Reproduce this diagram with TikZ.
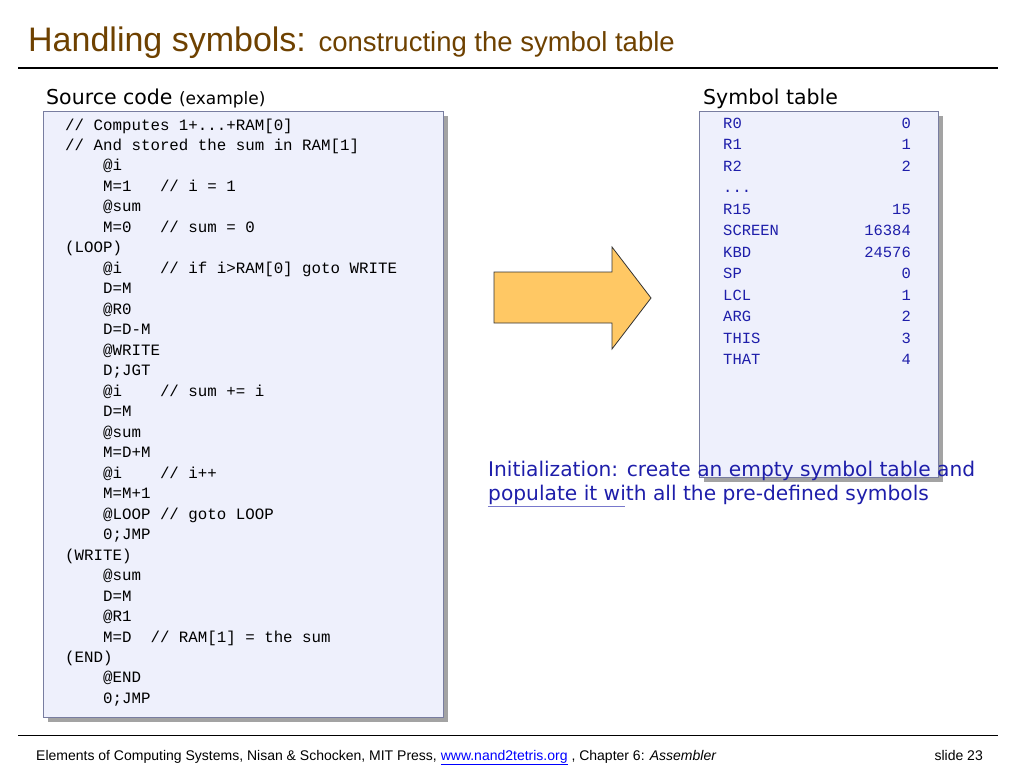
\documentclass[tikz,border=0pt]{standalone}
\usepackage{fontspec}
\setmainfont{Liberation Sans}
\newfontfamily\hand{DejaVu Sans}
\newfontfamily\code{Liberation Mono}
\usetikzlibrary{shadows}
\definecolor{titlebrown}{RGB}{110,65,0}
\definecolor{boxfill}{RGB}{238,240,252}
\definecolor{boxline}{RGB}{120,125,160}
\definecolor{tblue}{RGB}{30,30,170}
\definecolor{arrowfill}{RGB}{255,200,100}
\tikzset{
  x=1pt,y=-1pt,
  panel/.style={draw=boxline,fill=boxfill,line width=0.8pt,drop shadow={shadow xshift=5pt,shadow yshift=-5pt,fill=black!60,opacity=0.6}},
  codeline/.style={anchor=base west,inner sep=0pt,font=\code\fontsize{15.8}{15.8}\selectfont},
  tabline/.style={anchor=base west,inner sep=0pt,text=tblue,font=\code\fontsize{15.5}{15.5}\selectfont},
  tabval/.style={anchor=base east,inner sep=0pt,text=tblue,font=\code\fontsize{15.5}{15.5}\selectfont},
}
\newcommand\cl[2]{\node[codeline] (c#1) at (65,{130+20.48*#1}) {#2};}
\newcommand\tl[3]{\node[tabline] (n#1) at (723,{128+21.5*#1}) {#2};\node[tabval] (v#1) at (911,{128+21.5*#1}) {#3};}
\begin{document}
\begin{tikzpicture}
\useasboundingbox (0,0) rectangle (1024,768);
\node[anchor=base west,inner sep=0pt,text=titlebrown] (title) at (28,52) {\fontsize{34}{34}\selectfont Handling symbols: \fontsize{27.5}{27.5}\selectfont constructing the symbol table};
\draw[line width=2pt] (18,68) -- (998,68);
\node[anchor=base west,inner sep=0pt] (srch) at (46,104) {\hand\fontsize{20.5}{20.5}\selectfont Source code \fontsize{17}{17}\selectfont(example)};
\node[anchor=base west,inner sep=0pt] (symh) at (703,104) {\hand\fontsize{20.5}{20.5}\selectfont Symbol table};
\path[panel] (43,111) rectangle (443,717);
\cl{0}{// Computes 1+...+RAM[0]}
\cl{1}{// And stored the sum in RAM[1]}
\cl{2}{\ \ \ \ @i}
\cl{3}{\ \ \ \ M=1\ \ \ // i = 1}
\cl{4}{\ \ \ \ @sum}
\cl{5}{\ \ \ \ M=0\ \ \ // sum = 0}
\cl{6}{(LOOP)}
\cl{7}{\ \ \ \ @i\ \ \ \ // if i>RAM[0] goto WRITE}
\cl{8}{\ \ \ \ D=M}
\cl{9}{\ \ \ \ @R0}
\cl{10}{\ \ \ \ D=D-M}
\cl{11}{\ \ \ \ @WRITE}
\cl{12}{\ \ \ \ D;JGT}
\cl{13}{\ \ \ \ @i\ \ \ \ // sum += i}
\cl{14}{\ \ \ \ D=M}
\cl{15}{\ \ \ \ @sum}
\cl{16}{\ \ \ \ M=D+M}
\cl{17}{\ \ \ \ @i\ \ \ \ // i++}
\cl{18}{\ \ \ \ M=M+1}
\cl{19}{\ \ \ \ @LOOP // goto LOOP}
\cl{20}{\ \ \ \ 0;JMP}
\cl{21}{(WRITE)}
\cl{22}{\ \ \ \ @sum}
\cl{23}{\ \ \ \ D=M}
\cl{24}{\ \ \ \ @R1}
\cl{25}{\ \ \ \ M=D\ \ // RAM[1] = the sum}
\cl{26}{(END)}
\cl{27}{\ \ \ \ @END}
\cl{28}{\ \ \ \ 0;JMP}
\path[panel] (699,111) rectangle (938,477);
\tl{0}{R0}{0}
\tl{1}{R1}{1}
\tl{2}{R2}{2}
\tl{3}{...}{}
\tl{4}{R15}{15}
\tl{5}{SCREEN}{16384}
\tl{6}{KBD}{24576}
\tl{7}{SP}{0}
\tl{8}{LCL}{1}
\tl{9}{ARG}{2}
\tl{10}{THIS}{3}
\tl{11}{THAT}{4}
\draw[fill=arrowfill,draw=black!80,line width=0.8pt] (494,272) -- (612,272) -- (612,247) -- (651,298) -- (612,349) -- (612,323) -- (494,323) -- cycle;
\node[anchor=base west,inner sep=0pt,text=tblue,align=left,font=\hand\fontsize{20.2}{23.5}\selectfont] (init) at (488,500) {Initialization: create an empty symbol table and\\populate it with all the pre-defined symbols};
\draw[tblue!60,line width=0.8pt] (488,506) -- (625,506);
\draw[line width=0.8pt] (18,735) -- (998,735);
\node[anchor=base west,inner sep=0pt] (foot) at (36,760) {\fontsize{14}{14}\selectfont Elements of Computing Systems, Nisan \& Schocken, MIT Press, \textcolor{blue}{\underline{www.nand2tetris.org}} , Chapter 6: \textit{Assembler}};
\node[anchor=base east,inner sep=0pt] (slide) at (983,760) {\fontsize{14}{14}\selectfont slide 23};
\end{tikzpicture}
\end{document}
